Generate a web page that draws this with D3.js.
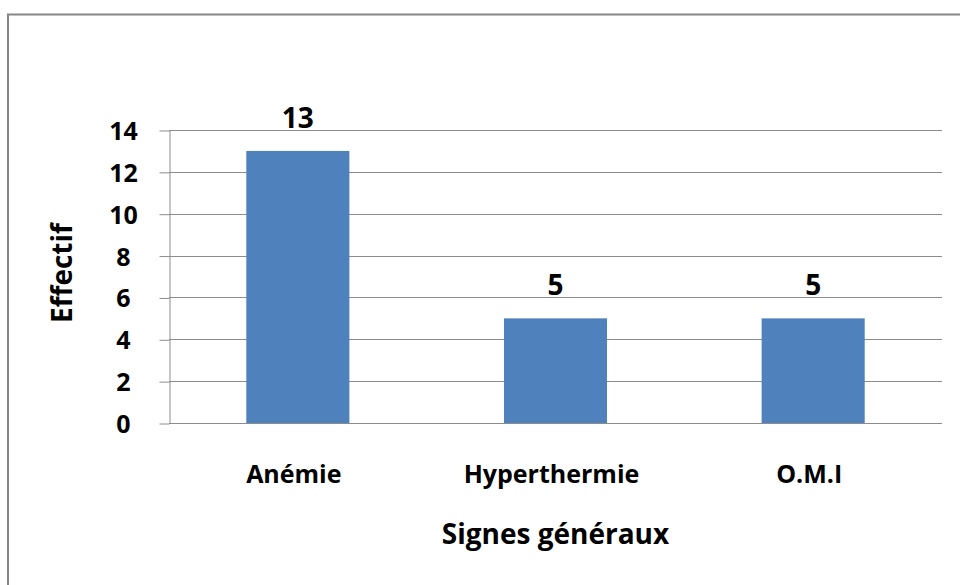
<!DOCTYPE html>
<html>
<head>
<meta charset="utf-8">
<script src="https://cdn.jsdelivr.net/npm/d3@7"></script>
<style>
  body { margin: 0; background: #fff; }
  svg { display: block; }
  text { font-family: "Open Sans", sans-serif; font-weight: 700; fill: #000; }
</style>
</head>
<body>
<svg width="960" height="585"></svg>
<script>
// chart data
var categories = ["Anémie", "Hyperthermie", "O.M.I"];
var values = [13, 5, 5];
var yTicks = [0, 2, 4, 6, 8, 10, 12, 14];
var xTitle = "Signes généraux";
var yTitle = "Effectif";

var svg = d3.select('svg');

// outer frame (right and bottom edges run off the picture)
svg.append("rect")
    .attr("x", 8)
    .attr("y", 14.5)
    .attr("width", 1000)
    .attr("height", 1000)
    .style("fill", "none")
    .style("stroke", "#868686")
    .style("stroke-width", 2);

var plotLeft = 169, plotRight = 942, plotTop = 130, plotBottom = 423;

var xScale = d3.scaleBand()
    .domain(categories)
    .range([plotLeft, plotRight])
    .paddingInner(0.6)
    .paddingOuter(0.3);

var yScale = d3.scaleLinear()
    .domain([0, 14])
    .range([plotBottom, plotTop]);

// gridlines
svg.append("g")
    .selectAll("line")
    .data(yTicks)
    .enter()
    .append("line")
    .attr("x1", plotLeft)
    .attr("x2", plotRight)
    .attr("y1", d => Math.round(yScale(d)) + 0.5)
    .attr("y2", d => Math.round(yScale(d)) + 0.5)
    .style("stroke", "#8c8c8c")
    .style("stroke-width", 1);

// y axis
var yAxis = d3.axisLeft(yScale)
    .tickValues(yTicks)
    .tickSizeInner(10)
    .tickSizeOuter(0)
    .tickPadding(0);

var yG = svg.append("g")
    .attr("transform", "translate(" + (plotLeft + 0.5) + ",0.5)")
    .call(yAxis);

yG.select(".domain").style("stroke", "#8c8c8c");
yG.selectAll(".tick line").style("stroke", "#8c8c8c");
yG.selectAll(".tick text")
    .attr("x", -46)
    .attr("dy", "0.36em")
    .style("text-anchor", "middle")
    .style("font-size", "25px")
    .style("font-family", "'Open Sans', sans-serif")
    .style("font-weight", 700)
    .style("fill", "#000");

// bars
svg.selectAll(".bar")
    .data(values)
    .enter()
    .append("rect")
    .attr("class", "bar")
    .attr("x", (d, i) => xScale(categories[i]))
    .attr("y", d => yScale(d))
    .attr("width", xScale.bandwidth())
    .attr("height", d => plotBottom - yScale(d))
    .style("fill", "#4f81bd");

// value labels
svg.selectAll(".val")
    .data(values)
    .enter()
    .append("text")
    .attr("class", "val")
    .attr("x", (d, i) => xScale(categories[i]) + xScale.bandwidth() / 2)
    .attr("y", d => yScale(d) - 23)
    .style("text-anchor", "middle")
    .style("font-size", "28px")
    .text(d => d);

// category labels
svg.selectAll(".cat")
    .data(categories)
    .enter()
    .append("text")
    .attr("class", "cat")
    .attr("x", d => xScale(d) + xScale.bandwidth() / 2 - 4)
    .attr("y", 483)
    .style("text-anchor", "middle")
    .style("font-size", "25px")
    .text(d => d);

// axis titles
svg.append("text")
    .attr("x", (plotLeft + plotRight) / 2)
    .attr("y", 544)
    .style("text-anchor", "middle")
    .style("font-size", "28px")
    .text(xTitle);

svg.append("text")
    .attr("transform", "translate(72, 273)rotate(-90)")
    .style("text-anchor", "middle")
    .style("font-size", "28px")
    .text(yTitle);
</script>
</body>
</html>
